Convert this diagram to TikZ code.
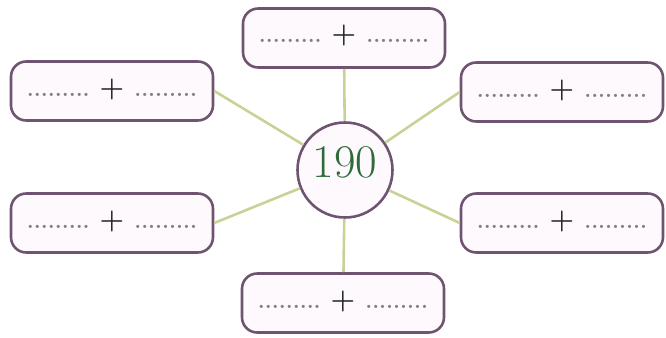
\documentclass[tikz,border=0pt]{standalone}
\usepackage{tikz}
\usetikzlibrary{positioning}
\definecolor{rim}{HTML}{6E5470}
\definecolor{blush}{HTML}{FEF9FC}
\definecolor{olive}{HTML}{CBD196}
\definecolor{leaf}{HTML}{2F6B3A}
\definecolor{dotgray}{HTML}{7F7F86}
\newcommand{\gaps}{{\color{dotgray}\fontsize{19}{19}\bfseries\selectfont .........}}
\newcommand{\sumslot}{\gaps\hspace{0.3cm}{\color{black!85}\fontsize{24}{24}\bfseries\selectfont +}\hspace{0.3cm}\gaps}
\tikzset{
  slot/.style ={draw=rim,line width=2.2pt,fill=blush,rounded corners=13pt,
                minimum width=6.06cm,minimum height=1.77cm,inner sep=0pt,
                text height=0.6cm,text depth=0.3cm},
  hub/.style  ={circle,draw=rim,line width=2.2pt,fill=blush,minimum size=2.85cm,inner sep=0pt,
                text=leaf,font=\fontsize{40}{40}\selectfont,text height=0.91cm,text depth=0.49cm},
  spoke/.style={draw=olive,line width=2.2pt},
}
\begin{document}
\begin{tikzpicture}[x=0.03cm,y=-0.03cm]
  \useasboundingbox (0,0) rectangle (666,338);
  \node[hub]  (num) at (345,170){190};
  \node[slot] (top) at (344,38){\sumslot};
  \node[slot] (tl)  at (112,91){\sumslot};  \node[slot] (tr) at (562,92){\sumslot};
  \node[slot] (bl)  at (112,223){\sumslot}; \node[slot] (br) at (562,223){\sumslot};
  \node[slot] (bot) at (343,303){\sumslot};
  \draw[spoke] (num) -- (top);  \draw[spoke] (num) -- (bot);
  \draw[spoke] (num) -- (tl.east); \draw[spoke] (num) -- (tr.west);
  \draw[spoke] (num) -- (bl.east); \draw[spoke] (num) -- (br.west);
\end{tikzpicture}
\end{document}
